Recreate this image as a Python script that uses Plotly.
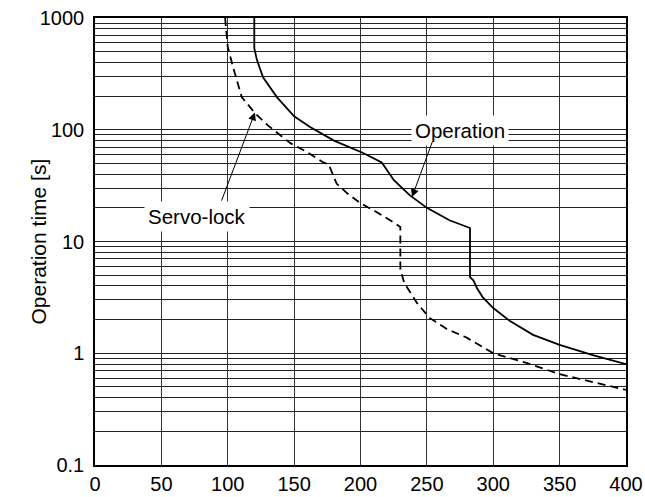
import math
import plotly.graph_objects as go

# Load ratio [%] vs. permissible operation time [s]
op_load = [120, 120, 122, 126.6, 137, 150, 162, 180, 202, 216, 225, 237, 250, 267, 282.5,
           282.5, 285, 287.7, 292, 300, 312.6, 330, 350, 375, 400]
op_time = [1000, 537, 420, 295, 196, 132, 106, 80, 62, 51, 35.5, 26, 20, 15.5, 13.2,
           4.8, 4.5, 3.84, 3.18, 2.54, 1.94, 1.46, 1.19, 0.96, 0.80]

sl_load = [98, 100, 104, 110.5, 120.5, 130, 147, 160, 172, 176, 182, 190, 200, 212, 225, 230,
           230, 233, 242.5, 252, 265, 280, 300, 325, 350, 375, 400]
sl_time = [1000, 550, 363, 196, 141, 110, 76, 63, 51, 49, 33, 27, 22, 18.4, 14.8, 13.5,
           5.6, 4.25, 2.82, 2.07, 1.65, 1.38, 1.0, 0.82, 0.65, 0.55, 0.47]

x_ticks = [0, 50, 100, 150, 200, 250, 300, 350, 400]
y_ticks = [0.1, 1, 10, 100, 1000]
y_tick_text = ["0.1", "1", "10", "100", "1000"]
y_minor = [m * 10 ** d for d in range(-1, 3) for m in range(2, 10)]

FONT = "Liberation Sans, Arial, sans-serif"

fig = go.Figure()
fig.add_trace(go.Scatter(x=sl_load, y=sl_time, mode="lines",
                         line=dict(color="black", width=1.8, dash="8px,5px"),
                         showlegend=False, hoverinfo="skip"))
fig.add_trace(go.Scatter(x=op_load, y=op_time, mode="lines",
                         line=dict(color="black", width=1.8),
                         showlegend=False, hoverinfo="skip"))

lg = math.log10
annotations = [
    # labels on a white box so the grid does not run through the text
    dict(x=275, y=lg(97.5), xref="x", yref="y", text="Operation", showarrow=False,
         bgcolor="white", borderpad=3, font=dict(size=20.5, family=FONT, color="black")),
    dict(x=76.8, y=lg(16.6), xref="x", yref="y", text="Servo-lock", showarrow=False,
         bgcolor="white", borderpad=3, font=dict(size=20.5, family=FONT, color="black")),
    # leader arrows
    dict(x=120.5, y=lg(143), ax=94.9, ay=lg(22.5), xref="x", yref="y", axref="x", ayref="y",
         text="", showarrow=True, arrowhead=2, arrowsize=1.6, arrowwidth=1, arrowcolor="black",
         standoff=0, startstandoff=0),
    dict(x=238.8, y=lg(25), ax=254.6, ay=lg(80.9), xref="x", yref="y", axref="x", ayref="y",
         text="", showarrow=True, arrowhead=2, arrowsize=1.6, arrowwidth=1, arrowcolor="black",
         standoff=0, startstandoff=0),
    # y-axis title, placed at a fixed pixel column left of the plot area
    dict(x=(38 - 95) / (645 - 95 - 19), y=0.5, xref="paper", yref="paper",
         xanchor="center", yanchor="middle",
         text="Operation time [s]", textangle=-90, showarrow=False,
         font=dict(size=21, family=FONT, color="black")),
]

fig.update_layout(
    width=645, height=497,
    margin=dict(l=95, r=19, t=18, b=32),
    paper_bgcolor="white", plot_bgcolor="white",
    font=dict(family=FONT, size=20, color="black"),
    annotations=annotations,
    xaxis=dict(range=[0, 400], tickmode="array", tickvals=x_ticks,
               showgrid=True, gridcolor="#333", gridwidth=1,
               showline=True, linecolor="black", linewidth=1.5, mirror=True,
               ticks="", zeroline=False, tickfont=dict(size=20),
               automargin=False),
    yaxis=dict(type="log", range=[-1, 3], tickmode="array", tickvals=y_ticks,
               ticktext=y_tick_text,
               showgrid=True, gridcolor="#222", gridwidth=1,
               minor=dict(tickmode="array", tickvals=y_minor, showgrid=True,
                          gridcolor="#222", gridwidth=1, ticks=""),
               showline=True, linecolor="black", linewidth=1.5, mirror=True,
               ticks="", zeroline=False, tickfont=dict(size=20),
               ticklabelstandoff=5, automargin=False),
)

fig.write_html("out.html")
